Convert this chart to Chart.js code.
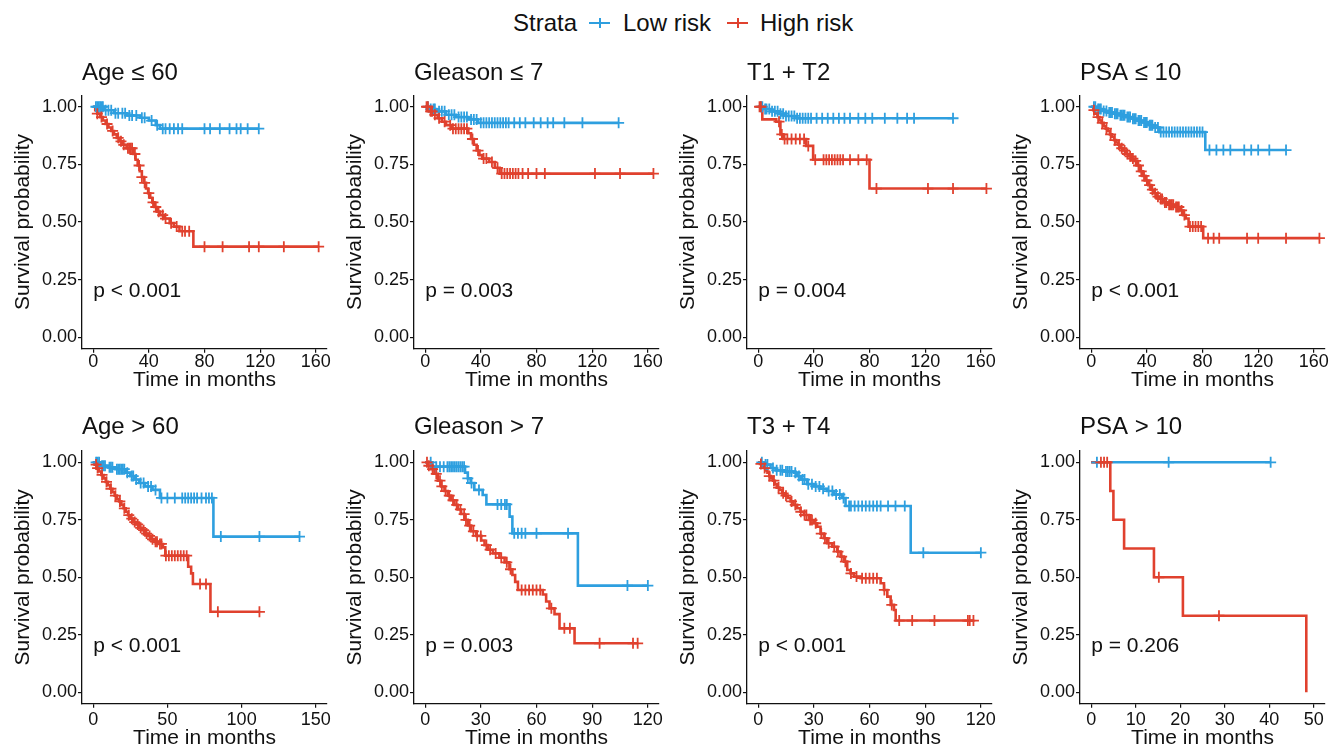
<!DOCTYPE html>
<html>
<head>
<meta charset="utf-8">
<script src="https://cdn.jsdelivr.net/npm/chart.js@4.4.1/dist/chart.umd.min.js"></script>
<style>
  html, body { margin: 0; padding: 0; background: #fff; }
  body { width: 1331px; height: 751px; overflow: hidden; position: relative;
         font-family: "Liberation Sans", Arial, sans-serif; color: #111; }
  canvas { position: absolute; }
  .lg-text { position: absolute; top: 9px; font-size: 24px; line-height: 28px; white-space: nowrap; }
  .lg-key { position: absolute; top: 22px; width: 21px; height: 2px; }
  .lg-key::after { content: ""; position: absolute; left: 9.5px; top: -4px; width: 2px; height: 10px; background: inherit; }
</style>
</head>
<body>
<span class="lg-text" style="left:513px">Strata</span>
<span class="lg-key" id="keyLow" style="left:589px"></span>
<span class="lg-text" style="left:623px">Low risk</span>
<span class="lg-key" id="keyHigh" style="left:727px"></span>
<span class="lg-text" style="left:760px">High risk</span>

<canvas id="c1"></canvas><canvas id="c2"></canvas><canvas id="c3"></canvas><canvas id="c4"></canvas>
<canvas id="c5"></canvas><canvas id="c6"></canvas><canvas id="c7"></canvas><canvas id="c8"></canvas>

<script>
const BLUE = "#2E9FDF";
const RED = "#E0412E";

const panelTitles = ["Age \u2264 60", "Gleason \u2264 7", "T1 + T2", "PSA \u2264 10",
                     "Age > 60", "Gleason > 7", "T3 + T4", "PSA > 10"];
const pValues = ["p < 0.001", "p = 0.003", "p = 0.004", "p < 0.001",
                 "p < 0.001", "p = 0.003", "p < 0.001", "p = 0.206"];
const ticks160 = [0, 40, 80, 120, 160];
const ticks150 = [0, 50, 100, 150];
const ticks120 = [0, 30, 60, 90, 120];
const ticks50 = [0, 10, 20, 30, 40, 50];
const yTicks = [0, 0.25, 0.5, 0.75, 1];

// Age <= 60
const p1LowT = [8, 15, 24, 34, 40, 45, 48];
const p1LowS = [0.985, 0.972, 0.962, 0.952, 0.94, 0.92, 0.905];
const p1LowC = [2, 3, 4, 5, 6, 7, 9, 11, 13, 16, 18, 21, 23, 26, 28, 31, 35, 37, 42, 46, 50, 52, 55, 58, 61, 64, 80, 84, 91, 98, 103, 106, 111, 119];
const p1HighT = [1.5, 3, 5, 7, 9, 11, 13, 15, 17, 19, 21, 24, 29, 30.5, 32, 33.5, 35, 36.5, 38, 39.5, 41, 42.5, 44, 46, 48, 51, 55, 58, 62, 72];
const p1HighS = [0.985, 0.97, 0.955, 0.94, 0.925, 0.91, 0.895, 0.88, 0.865, 0.85, 0.835, 0.82, 0.795, 0.77, 0.745, 0.72, 0.695, 0.67, 0.645, 0.625, 0.605, 0.585, 0.565, 0.545, 0.53, 0.515, 0.495, 0.48, 0.46, 0.393];
const p1HighC = [3, 6, 10, 14, 18, 20, 22, 25, 26, 27, 28, 30, 33, 35, 37, 40, 43, 45, 47, 50, 52, 56, 60, 64, 66, 69, 80, 93, 112, 119, 137, 162];

// Gleason <= 7
const p2LowT = [3, 8, 15, 22, 31, 38];
const p2LowS = [0.99, 0.98, 0.965, 0.955, 0.945, 0.93];
const p2LowC = [2, 4, 6, 7, 10, 12, 14, 17, 19, 21, 24, 26, 28, 30, 33, 35, 37, 40, 42, 44, 46, 48, 50, 52, 54, 56, 58, 60, 64, 68, 72, 78, 83, 88, 92, 100, 113, 139];
const p2HighT = [3, 6, 9, 12, 15, 19, 31, 33, 35, 37, 39, 41, 46, 50, 53.5];
const p2HighS = [0.98, 0.965, 0.95, 0.935, 0.92, 0.905, 0.885, 0.86, 0.835, 0.81, 0.79, 0.775, 0.76, 0.735, 0.71];
const p2HighC = [1, 2, 4, 5, 7, 10, 14, 18, 20, 22, 24, 26, 28, 30, 34, 38, 42, 44, 48, 52, 55, 57, 59, 61, 63, 65, 67, 70, 74, 80, 86, 122, 140, 164];

// T1 + T2
const p3LowT = [4, 9, 15, 20, 28];
const p3LowS = [0.99, 0.98, 0.97, 0.96, 0.95];
const p3LowC = [2, 3, 5, 6, 8, 10, 12, 14, 16, 18, 20, 22, 24, 26, 28, 30, 32, 34, 36, 38, 42, 46, 50, 54, 58, 62, 66, 72, 77, 82, 91, 100, 107, 112, 140];
const p3HighT = [3, 13, 16, 18, 34.5, 39.5, 80];
const p3HighS = [0.945, 0.935, 0.88, 0.86, 0.83, 0.77, 0.645];
const p3HighC = [1, 2, 15, 17, 19, 21, 24, 27, 30, 33, 36, 41, 47, 49, 51, 53, 55, 57, 59, 61, 66, 72, 78, 85, 122, 140, 164];

// PSA <= 10
const p4LowT = [4, 8, 12, 16, 20, 25, 29, 33, 37, 41, 45, 49, 82];
const p4LowS = [0.99, 0.982, 0.975, 0.97, 0.963, 0.955, 0.948, 0.94, 0.932, 0.92, 0.91, 0.89, 0.812];
const p4LowC = [2, 3, 5, 6, 7, 9, 11, 13, 14, 15, 17, 18, 19, 21, 22, 23, 24, 26, 27, 28, 30, 31, 32, 34, 35, 36, 38, 39, 40, 42, 43, 44, 46, 48, 50, 52, 54, 56, 58, 60, 62, 64, 66, 68, 70, 72, 74, 76, 78, 80, 85, 90, 95, 100, 110, 115, 120, 128, 140];
const p4HighT = [1.5, 3, 4.5, 6, 7.5, 9, 10.5, 12, 13.5, 15, 16.5, 18, 19.5, 21, 23, 25, 27, 29, 31, 33, 35, 37, 39, 41, 43, 45, 47, 49.5, 52, 55, 60, 64, 66, 68, 70, 80.5];
const p4HighS = [0.985, 0.97, 0.955, 0.94, 0.93, 0.915, 0.905, 0.895, 0.88, 0.87, 0.855, 0.845, 0.835, 0.82, 0.81, 0.795, 0.785, 0.775, 0.765, 0.745, 0.72, 0.7, 0.68, 0.66, 0.64, 0.625, 0.61, 0.6, 0.585, 0.575, 0.565, 0.55, 0.53, 0.515, 0.48, 0.43];
const p4HighC = [2, 5, 8, 11, 14, 17, 20, 22, 24, 26, 28, 30, 32, 34, 36, 38, 40, 42, 44, 46, 48, 50, 51, 53, 54, 56, 57, 58, 59, 61, 62, 63, 65, 67, 71, 73, 75, 77, 79, 84, 88, 92, 112, 120, 140, 164];

// Age > 60
const p5LowT = [5, 10, 15, 22, 25, 28, 31, 35, 40, 45, 81];
const p5LowS = [0.985, 0.978, 0.97, 0.955, 0.94, 0.925, 0.91, 0.895, 0.88, 0.845, 0.677];
const p5LowC = [2, 3, 4, 6, 7, 8, 11, 12, 13, 16, 17, 18, 19, 20, 21, 23, 26, 27, 29, 32, 34, 37, 39, 42, 46, 50, 55, 60, 62, 64, 66, 68, 70, 73, 76, 78, 80, 86, 112, 139];
const p5HighT = [1, 2.5, 4, 5.5, 7, 8.5, 10, 11.5, 13, 14.5, 16, 17.5, 19, 20.5, 22, 23.5, 25, 27, 29, 31, 33, 35, 37, 39, 41, 44, 47, 48.6, 64, 66, 67.2, 79];
const p5HighS = [0.99, 0.975, 0.96, 0.945, 0.93, 0.915, 0.9, 0.885, 0.87, 0.855, 0.84, 0.83, 0.815, 0.8, 0.785, 0.77, 0.755, 0.74, 0.73, 0.715, 0.705, 0.69, 0.68, 0.665, 0.655, 0.645, 0.63, 0.594, 0.546, 0.517, 0.471, 0.35];
const p5HighC = [2, 3, 6, 9, 12, 15, 18, 21, 24, 26, 28, 30, 32, 34, 36, 38, 40, 42, 43, 45, 46, 49, 51, 53, 55, 57, 59, 61, 63, 72, 76, 84, 112];

// Gleason > 7
const p6LowT = [4, 21.5, 23, 24.5, 26.5, 31, 33, 45.5, 47, 82.3];
const p6LowS = [0.981, 0.955, 0.93, 0.91, 0.88, 0.858, 0.817, 0.764, 0.691, 0.464];
const p6LowC = [3, 6, 8, 10, 12, 13, 14, 15, 16, 17, 18, 19, 20, 21, 23, 25, 29, 39, 41, 43, 44, 48, 50, 52, 54, 60, 77, 109, 120];
const p6HighT = [1.4, 3.2, 5, 6.8, 8.6, 10.4, 12.2, 14, 15.8, 17.6, 19.4, 21.2, 23, 24.8, 27.5, 30.2, 32, 33.8, 36.5, 40, 42.8, 45.4, 47, 48.5, 50, 63.4, 65.2, 67, 69.7, 72.4, 80.5];
const p6HighS = [0.985, 0.97, 0.95, 0.92, 0.895, 0.875, 0.855, 0.835, 0.815, 0.795, 0.775, 0.75, 0.725, 0.7, 0.68, 0.66, 0.64, 0.62, 0.604, 0.585, 0.565, 0.535, 0.51, 0.48, 0.445, 0.425, 0.395, 0.365, 0.34, 0.278, 0.213];
const p6HighC = [1, 2, 4, 6, 8, 9, 11, 13, 15, 17, 19, 21, 22, 24, 26, 28, 30, 33, 35, 38, 41, 44, 46, 52, 54, 56, 58, 60, 62, 68, 75, 78, 94, 112, 114.5];

// T3 + T4
const p7LowT = [3, 6.7, 9.4, 14, 19.5, 21, 23, 26.4, 30, 33.6, 37.2, 40.8, 45.3, 47.1, 82.2];
const p7LowS = [0.99, 0.975, 0.965, 0.96, 0.955, 0.94, 0.925, 0.905, 0.895, 0.885, 0.875, 0.86, 0.845, 0.81, 0.607];
const p7LowC = [2, 4, 5, 8, 10, 12, 13, 15, 16, 17, 18, 20, 22, 24, 25, 27, 29, 31, 33, 35, 38, 40, 42, 44, 46, 49, 50, 52, 54, 56, 58, 60, 62, 64, 66, 70, 74, 79, 89, 120];
const p7HighT = [1, 2, 3, 4, 5, 6, 7, 8, 9, 10, 11.5, 13, 14.5, 16, 17.5, 19, 21, 22.8, 24.6, 27.3, 30, 31.8, 33.6, 35.4, 37.2, 39.9, 42.6, 44.4, 46.2, 48, 49.8, 51.6, 55.2, 66, 67.8, 69.6, 71.4, 73.2, 74.1];
const p7HighS = [0.993, 0.985, 0.975, 0.965, 0.955, 0.94, 0.93, 0.92, 0.905, 0.89, 0.88, 0.865, 0.855, 0.845, 0.83, 0.815, 0.8, 0.785, 0.771, 0.749, 0.735, 0.72, 0.69, 0.67, 0.648, 0.633, 0.612, 0.59, 0.568, 0.532, 0.517, 0.503, 0.496, 0.474, 0.445, 0.416, 0.38, 0.358, 0.312];
const p7HighC = [1.5, 3.5, 6, 8.5, 11, 13.5, 15, 18, 20, 23, 25, 26, 28, 29, 31, 34, 36, 38, 41, 43, 45, 47, 50, 53, 56, 58, 60, 62, 64, 68, 72, 76, 83, 95, 113, 114, 116];

// PSA > 10
const p8LowT = [];
const p8LowS = [];
const p8LowC = [1.3, 17.4, 40.3];
const p8HighT = [4.3, 5.0, 7.4, 14.1, 20.6, 48.3];
const p8HighS = [0.875, 0.75, 0.625, 0.5, 0.333, 0];
const p8HighC = [2.2, 2.9, 3.6, 15.2, 28.7];

const panels = [
  { low: [p1LowT, p1LowS, p1LowC], high: [p1HighT, p1HighS, p1HighC], xTicks: ticks160 },
  { low: [p2LowT, p2LowS, p2LowC], high: [p2HighT, p2HighS, p2HighC], xTicks: ticks160 },
  { low: [p3LowT, p3LowS, p3LowC], high: [p3HighT, p3HighS, p3HighC], xTicks: ticks160 },
  { low: [p4LowT, p4LowS, p4LowC], high: [p4HighT, p4HighS, p4HighC], xTicks: ticks160 },
  { low: [p5LowT, p5LowS, p5LowC], high: [p5HighT, p5HighS, p5HighC], xTicks: ticks150 },
  { low: [p6LowT, p6LowS, p6LowC], high: [p6HighT, p6HighS, p6HighC], xTicks: ticks120 },
  { low: [p7LowT, p7LowS, p7LowC], high: [p7HighT, p7HighS, p7HighC], xTicks: ticks120 },
  { low: [p8LowT, p8LowS, p8LowC], high: [p8HighT, p8HighS, p8HighC], xTicks: ticks50 }
];

// layout of the grid (pixels)
const colLeft = [0, 332, 665, 998];
const rows = [
  { top: 50, height: 350, padTop: 8.6, titleGap: 7.8, xAxisH: 51.2, tickPad: 0, xTitlePad: 7.4 },
  { top: 405, height: 346, padTop: 8.1, titleGap: 8.9, xAxisH: 47.2, tickPad: 3, xTitlePad: 0 }
];
const FONT = '"Liberation Sans", Arial, Helvetica, sans-serif';

document.getElementById("keyLow").style.background = BLUE;
document.getElementById("keyHigh").style.background = RED;

function survAt(t, s, time) {
  let v = 1;
  for (let i = 0; i < t.length; i++) if (t[i] <= time) v = s[i];
  return v;
}

function stepPoints(t, s, c) {
  const pts = [{ x: 0, y: 1 }];
  t.forEach((v, i) => pts.push({ x: v, y: s[i] }));
  const last = Math.max(t.length ? t[t.length - 1] : 0, c.length ? c[c.length - 1] : 0);
  if (!t.length || last > t[t.length - 1]) pts.push({ x: last, y: survAt(t, s, last) });
  return pts;
}

function censorPoints(t, s, c) {
  return c.map(v => ({ x: v, y: survAt(t, s, v) }));
}

const pvalPlugin = {
  id: "pval",
  afterDatasetsDraw(chart, args, opts) {
    const { ctx, scales } = chart;
    ctx.save();
    ctx.font = "21px " + FONT;
    ctx.fillStyle = "#111";
    ctx.textAlign = "left";
    ctx.textBaseline = "middle";
    ctx.fillText(opts.text, scales.x.getPixelForValue(0), scales.y.getPixelForValue(0.2));
    ctx.restore();
  }
};

panels.forEach((p, i) => {
  const row = rows[Math.floor(i / 4)];
  const canvas = document.getElementById("c" + (i + 1));
  canvas.width = 345;
  canvas.height = row.height;
  canvas.style.left = colLeft[i % 4] + "px";
  canvas.style.top = row.top + "px";
  const xMax = p.xTicks[p.xTicks.length - 1];

  const lineDs = (d, color, order) => ({
    type: "line", data: stepPoints(...d), stepped: true, borderColor: color,
    borderWidth: 2.6, pointRadius: 0, fill: false, order: order
  });
  const censDs = (d, color, order) => ({
    type: "scatter", data: censorPoints(...d), pointStyle: "cross", pointRadius: 5.5,
    borderColor: color, borderWidth: 1.8, order: order
  });

  new Chart(canvas, {
    type: "scatter",
    data: {
      datasets: [
        lineDs(p.low, BLUE, 3),
        lineDs(p.high, RED, 2),
        censDs(p.low, BLUE, 1),
        censDs(p.high, RED, 0)
      ]
    },
    options: {
      responsive: false,
      animation: false,
      events: [],
      layout: { padding: { left: 0, right: 18, top: row.padTop, bottom: 0 } },
      plugins: {
        legend: { display: false },
        tooltip: { enabled: false },
        title: {
          display: true, text: panelTitles[i], align: "start", fullSize: false, color: "#111",
          font: { family: FONT, size: 24, weight: "normal" }, padding: { top: 0, bottom: row.titleGap }
        },
        pval: { text: pValues[i] }
      },
      scales: {
        x: {
          type: "linear", min: -0.05 * xMax, max: 1.05 * xMax,
          afterBuildTicks: s => { s.ticks = p.xTicks.map(v => ({ value: v })); },
          afterFit: s => { s.height = row.xAxisH; },
          grid: { drawOnChartArea: false, drawTicks: true, tickLength: 4, color: "#111", lineWidth: 1.2 },
          border: { display: true, color: "#111", width: 1.3 },
          ticks: { color: "#111", padding: row.tickPad, maxRotation: 0, autoSkip: false,
                   font: { family: FONT, size: 18, lineHeight: 1 } },
          title: { display: true, text: "Time in months", color: "#111",
                   font: { family: FONT, size: 21 }, padding: { top: 0, bottom: row.xTitlePad } }
        },
        y: {
          type: "linear", min: -0.05, max: 1.05,
          afterBuildTicks: s => { s.ticks = yTicks.map(v => ({ value: v })); },
          afterFit: s => { s.width = 82; },
          grid: { drawOnChartArea: false, drawTicks: true, tickLength: 4, color: "#111", lineWidth: 1.2 },
          border: { display: true, color: "#111", width: 1.3 },
          ticks: { color: "#111", padding: 1, font: { family: FONT, size: 18 },
                   callback: v => Number(v).toFixed(2) },
          title: { display: true, text: "Survival probability", color: "#111",
                   font: { family: FONT, size: 21 }, padding: { top: 10.4, bottom: 0 } }
        }
      }
    },
    plugins: [pvalPlugin]
  });
});
</script>
</body>
</html>
